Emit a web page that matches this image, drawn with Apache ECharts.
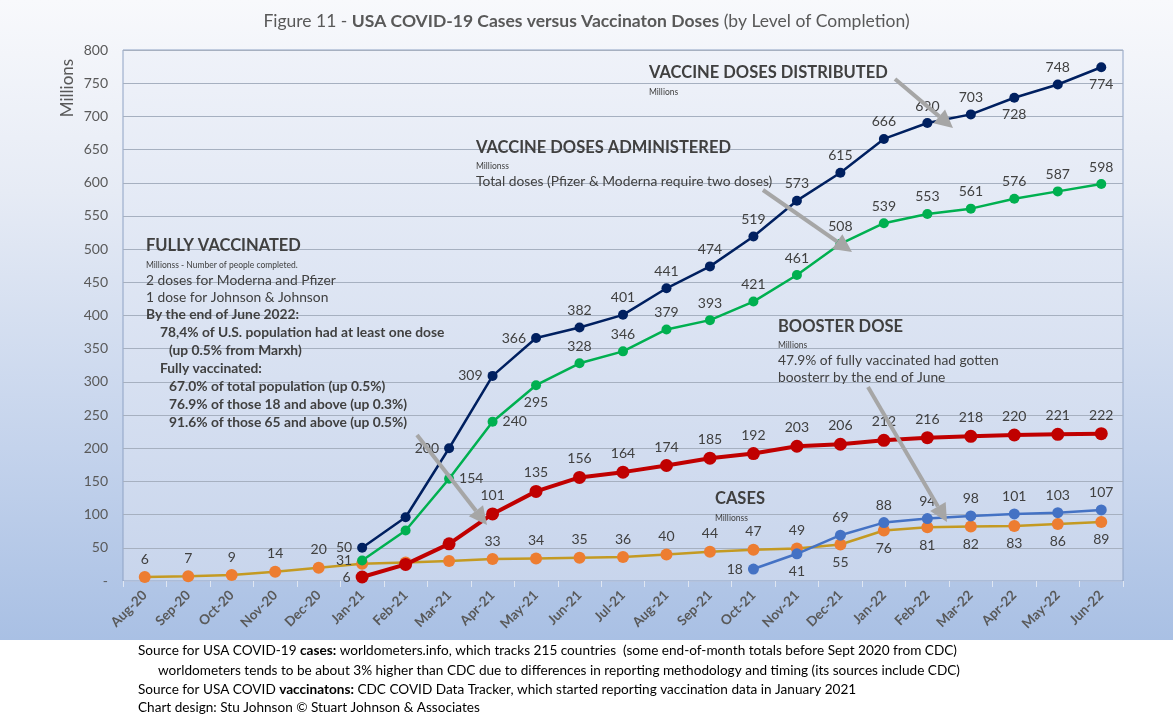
<!DOCTYPE html>
<html>
<head>
<meta charset="utf-8">
<script src="https://cdn.jsdelivr.net/npm/echarts@6/dist/echarts.min.js"></script>
<style>
html,body{margin:0;padding:0;background:#fff;}
#chart{width:1173px;height:717px;
background:linear-gradient(to bottom,#f8f9fc 0%,#e6ebf5 30%,#c4d3ec 70%,#a9c0e4 100%) top left/100% 640px no-repeat,#ffffff;}
</style>
</head>
<body>
<div id="chart"></div>
<script>
// ---------- DATA ----------
const months = ['Aug-20','Sep-20','Oct-20','Nov-20','Dec-20','Jan-21','Feb-21','Mar-21','Apr-21','May-21','Jun-21','Jul-21','Aug-21','Sep-21','Oct-21','Nov-21','Dec-21','Jan-22','Feb-22','Mar-22','Apr-22','May-22','Jun-22'];
const yTicks = [0,50,100,150,200,250,300,350,400,450,500,550,600,650,700,750,800];

const dosesDistributed = [null,null,null,null,null,50,96,200,309,366,382,401,441,474,519,573,615,666,690,703,728,748,774];
const dosesAdministered = [null,null,null,null,null,31,76,154,240,295,328,346,379,393,421,461,508,539,553,561,576,587,598];
const fullyVaccinated = [null,null,null,null,null,6,25,56,101,135,156,164,174,185,192,203,206,212,216,218,220,221,222];
const boosterDose = [null,null,null,null,null,null,null,null,null,null,null,null,null,null,18,41,69,88,94,98,101,103,107];
const cases = [6,7,9,14,20,26,28,30,33,34,35,36,40,44,47,49,55,76,81,82,83,86,89];

// label placement per point ('' = no label)
const distPos = ['','','','','','left','','left','left','left','top','top','top','top','top','top','top','top','top','top','bottom','top','bottom'];
const admPos  = ['','','','','','left','','right','right','bottom','top','top','top','top','top','top','top','top','top','top','top','top','top'];
const fullPos = ['','','','','','left','','','top','top','top','top','top','top','top','top','top','top','top','top','top','top','top'];
const boostPos= ['','','','','','','','','','','','','','','left','bottom','top','top','top','top','top','top','top'];
const casesPos= ['top','top','top','top','top','','','','top','top','top','top','top','top','top','top','bottom','bottom','bottom','bottom','bottom','bottom','bottom'];

// ---------- CHART ----------
const FONT = 'Lato, "Open Sans", sans-serif';
const TXT = '#404040';

function withLabels(vals, pos){
  return vals.map((v,i)=>({
    value: v,
    label: {show: v!=null && pos[i]!=='', position: pos[i]||'top'}
  }));
}
const lbl = {color:TXT, fontFamily:FONT, fontSize:14, distance:5};

function lineSeries(name, vals, pos, lineColor, dotColor, width, size, z){
  return {
    name, type:'line', data: withLabels(vals,pos),
    symbol:'circle', symbolSize:size, showSymbol:true,
    lineStyle:{color:lineColor, width},
    itemStyle:{color:dotColor},
    label: lbl, z: z, connectNulls:false, animation:false
  };
}

const chart = echarts.init(document.getElementById('chart'), null, {renderer:'canvas'});

function txt(x,y,text,size,bold,color){
  return {type:'text', x, y, silent:true, z:50,
    style:{text, fill: color||'#404040', font:(bold?'bold ':'')+size+'px '+FONT, textVerticalAlign:'middle'}};
}
function arrow(x1,y1,x2,y2){
  const ang = Math.atan2(y2-y1,x2-x1);
  const L=18, W=9;
  const bx = x2 - L*Math.cos(ang), by = y2 - L*Math.sin(ang);
  const px = -Math.sin(ang), py = Math.cos(ang);
  return [
    {type:'line', silent:true, z:40, shape:{x1,y1,x2:bx,y2:by}, style:{stroke:'#a6a6a6', lineWidth:4}},
    {type:'polygon', silent:true, z:40, shape:{points:[[x2,y2],[bx+px*W,by+py*W],[bx-px*W,by-py*W]]}, style:{fill:'#a6a6a6'}}
  ];
}

const SRC = 13.6;
const graphics = [
  {type:'text', x:68, y:88, rotation:Math.PI/2, silent:true,
    style:{text:'Millions', fill:'#595959', font:'17px '+FONT, textAlign:'center', textVerticalAlign:'middle'}},
  txt(649,73,'VACCINE DOSES DISTRIBUTED',16.5,true),
  txt(649,92,'Millions',8.5,false),
  txt(476,148,'VACCINE DOSES ADMINISTERED',16.5,true),
  txt(476,166,'Millionss',8.5,false),
  txt(476,182,'Total doses (Pfizer & Moderna require two doses)',13.8,false),
  txt(146,246,'FULLY VACCINATED',16.5,true),
  txt(146,265,'Millionss - Number of people completed.',8.5,false),
  txt(146,281,'2 doses for Moderna and Pfizer',13.8,false),
  txt(146,298,'1 dose for Johnson & Johnson',13.8,false),
  txt(146,315,'By the end of June 2022:',13.8,true),
  txt(160,333,'78,4% of U.S. population had at least one dose',13.8,true),
  txt(169,351,'(up 0.5% from Marxh)',13.8,true),
  txt(160,369,'Fully vaccinated:',13.8,true),
  txt(169,387,'67.0% of total population (up 0.5%)',13.8,true),
  txt(169,405,'76.9% of those 18 and above (up 0.3%)',13.8,true),
  txt(169,423,'91.6% of those 65 and above (up 0.5%)',13.8,true),
  txt(778,327,'BOOSTER DOSE',16.5,true),
  txt(778,345,'Millions',8.5,false),
  txt(778,361,'47.9% of fully vaccinated had gotten',13.8,false),
  txt(778,378,'boosterr by the end of June',13.8,false),
  txt(715,499,'CASES',16.5,true),
  txt(715,518,'Millionss',8.5,false),
  {type:'text', x:138, y:651, silent:true, style:{textVerticalAlign:'middle',
    text:'{n|Source for USA COVID-19 }{b|cases:}{n| worldometers.info, which tracks 215 countries  (some end-of-month totals before Sept 2020 from CDC)}',
    rich:{n:{font:SRC+'px '+FONT, fill:'#000'}, b:{font:'bold '+SRC+'px '+FONT, fill:'#000'}}}},
  txt(158,671,'worldometers tends to be about 3% higher than CDC due to differences in reporting methodology and timing (its sources include CDC)',SRC,false,'#000'),
  {type:'text', x:138, y:690, silent:true, style:{textVerticalAlign:'middle',
    text:'{n|Source for USA COVID }{b|vaccinatons:}{n| CDC COVID Data Tracker, which started reporting vaccination data in January 2021}',
    rich:{n:{font:SRC+'px '+FONT, fill:'#000'}, b:{font:'bold '+SRC+'px '+FONT, fill:'#000'}}}},
  txt(138,708,'Chart design: Stu Johnson \u00a9 Stuart Johnson & Associates',SRC,false,'#000'),
  ...arrow(895,79,953,128),
  ...arrow(763,190,852,252),
  ...arrow(417,435,487,525),
  ...arrow(868,387,947,522)
];

chart.setOption({
  backgroundColor:'transparent',
  animation:false,
  title:{
    left:'center', top:7,
    text:'{n|Figure 11 - }{b|USA COVID-19 Cases versus Vaccinaton Doses}{n| (by Level of Completion)}',
    textStyle:{fontWeight:'normal', rich:{
      n:{fontFamily:FONT, fontSize:17.5, fontWeight:'normal', color:'#595959'},
      b:{fontFamily:FONT, fontSize:17.5, fontWeight:'bold', color:'#595959'}
    }}
  },
  grid:{left:123, right:50, top:50, bottom:136, show:true,
    borderColor:'#8ea2c4', borderWidth:1,
    backgroundColor:{type:'linear', x:0,y:0,x2:0,y2:1, colorStops:[{offset:0,color:'#eff2f9'},{offset:1,color:'#c8d5ec'}]}},
  xAxis:{
    type:'category', data:months, boundaryGap:true,
    axisLine:{show:true, lineStyle:{color:'#b4c3de'}},
    axisTick:{show:true, length:6, interval:0, lineStyle:{color:'#dfe6f2'}},
    axisLabel:{rotate:45, interval:0, color:'#595959', fontFamily:FONT, fontSize:13.5, fontWeight:'bold', margin:12},
    splitLine:{show:false}
  },
  yAxis:{
    type:'value', min:yTicks[0], max:yTicks[yTicks.length-1], interval:yTicks[1]-yTicks[0],
    axisLine:{show:false}, axisTick:{show:false},
    axisLabel:{color:'#595959', fontFamily:FONT, fontSize:14, margin:15, formatter:v=> v===0?'-':String(v)},
    splitLine:{lineStyle:{color:'#a6b0c0', width:1}}
  },
  series:[
    lineSeries('Cases', cases, casesPos, '#c49a22', '#ed7d31', 2.5, 12, 3),
    lineSeries('Booster Dose', boosterDose, boostPos, '#4472c4', '#4472c4', 2.5, 11, 4),
    lineSeries('Fully Vaccinated', fullyVaccinated, fullPos, '#c00000', '#c00000', 4, 13, 5),
    lineSeries('Vaccine Doses Administered', dosesAdministered, admPos, '#00b050', '#00b050', 2.5, 10, 6),
    lineSeries('Vaccine Doses Distributed', dosesDistributed, distPos, '#002060', '#002060', 2.5, 10, 7)
  ],
  graphic: graphics
});
</script>
</body>
</html>
